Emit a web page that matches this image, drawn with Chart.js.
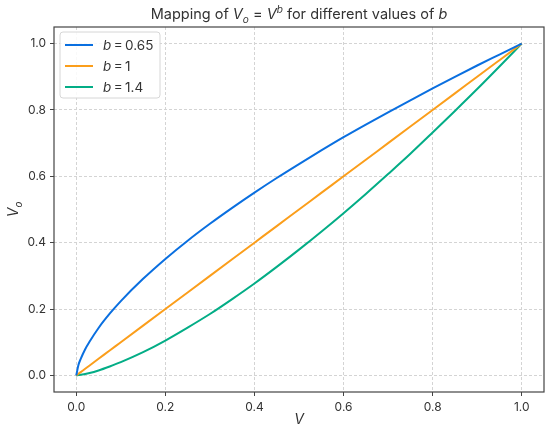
<!DOCTYPE html>
<html>
<head>
<meta charset="utf-8">
<script src="https://cdn.jsdelivr.net/npm/chart.js@4"></script>
<style>
    html, body { margin: 0; padding: 0; background: #fff; }
    #wrap { width: 550px; height: 431px; position: relative; }
</style>
</head>
<body>
<div id="wrap"><canvas id="chart"></canvas></div>
<script>
// Values
const vIn = [0, 0.005, 0.01, 0.02, 0.03, 0.05, 0.075, 0.1, 0.15, 0.2, 0.25, 0.3, 0.35, 0.4, 0.45,
             0.5, 0.55, 0.6, 0.65, 0.7, 0.75, 0.8, 0.85, 0.9, 0.95, 1.0];
const outB065 = [0, 0.032, 0.050, 0.079, 0.102, 0.143, 0.186, 0.224, 0.291, 0.351, 0.406, 0.457, 0.505, 0.551, 0.595,
                 0.637, 0.678, 0.718, 0.756, 0.793, 0.829, 0.865, 0.900, 0.934, 0.967, 1.0];
const outB1 = [0, 0.005, 0.01, 0.02, 0.03, 0.05, 0.075, 0.1, 0.15, 0.2, 0.25, 0.3, 0.35, 0.4, 0.45,
               0.5, 0.55, 0.6, 0.65, 0.7, 0.75, 0.8, 0.85, 0.9, 0.95, 1.0];
const outB14 = [0, 0.001, 0.002, 0.004, 0.007, 0.015, 0.027, 0.040, 0.070, 0.105, 0.144, 0.185, 0.230, 0.277, 0.327,
                0.379, 0.433, 0.489, 0.547, 0.607, 0.668, 0.732, 0.797, 0.863, 0.931, 1.0];
const bValues = ['0.65', '1', '1.4'];
const lineColors = ['#0a6fe0', '#fb9e1b', '#03ad86'];
const tickValues = [0, 0.2, 0.4, 0.6, 0.8, 1.0];

const FONT = 'Inter, "Noto Sans", sans-serif';
const TEXT = '#333';

function toPoints(ys) {
    return vIn.map((x, i) => ({ x: x, y: ys[i] }));
}

// draw a run of [text, style] pieces; style: 'n' normal, 'i' italic, 'sub', 'sup' (italic)
function drawPieces(ctx, pieces, x, y, size, align) {
    const fontFor = p => {
        const s = (p[1] === 'sub' || p[1] === 'sup') ? size * 0.7 : size;
        const it = p[1] === 'n' ? '' : 'italic ';
        return it + s + 'px ' + FONT;
    };
    let total = 0;
    pieces.forEach(p => { ctx.font = fontFor(p); total += ctx.measureText(p[0]).width; });
    let cx = align === 'center' ? x - total / 2 : x;
    ctx.textBaseline = 'alphabetic';
    ctx.textAlign = 'left';
    pieces.forEach(p => {
        ctx.font = fontFor(p);
        let dy = 0;
        if (p[1] === 'sub') dy = size * 0.25;
        if (p[1] === 'sup') dy = -size * 0.4;
        ctx.fillText(p[0], cx, y + dy);
        cx += ctx.measureText(p[0]).width;
    });
}

const decorPlugin = {
    id: 'decor',
    afterDraw(chart) {
        const ctx = chart.ctx;
        const a = chart.chartArea;
        ctx.save();
        // frame
        ctx.strokeStyle = '#444';
        ctx.lineWidth = 1.2;
        ctx.strokeRect(a.left, a.top, a.right - a.left, a.bottom - a.top);

        ctx.fillStyle = TEXT;
        // title
        const mid = (a.left + a.right) / 2;
        drawPieces(ctx, [['Mapping of ', 'n'], ['V', 'i'], ['o', 'sub'], [' = ', 'n'], ['V', 'i'], ['b', 'sup'],
                         [' for different values of ', 'n'], ['b', 'i']], mid, 19, 14.5, 'center');
        // x label
        drawPieces(ctx, [['V', 'i']], mid, 424, 14, 'center');
        // y label
        ctx.save();
        ctx.translate(18, (a.top + a.bottom) / 2);
        ctx.rotate(-Math.PI / 2);
        drawPieces(ctx, [['V', 'i'], ['o', 'sub']], 0, 0, 14, 'center');
        ctx.restore();

        // legend
        const lx = a.left + 6, ly = a.top + 5, lw = 100, lh = 66;
        ctx.beginPath();
        ctx.roundRect(lx, ly, lw, lh, 3);
        ctx.fillStyle = 'rgba(255,255,255,0.85)';
        ctx.fill();
        ctx.strokeStyle = '#d6d6d6';
        ctx.lineWidth = 1;
        ctx.stroke();
        bValues.forEach((b, i) => {
            const yy = ly + 13 + i * 21;
            ctx.strokeStyle = lineColors[i];
            ctx.lineWidth = 2;
            ctx.beginPath();
            ctx.moveTo(lx + 5, yy);
            ctx.lineTo(lx + 33, yy);
            ctx.stroke();
            ctx.fillStyle = TEXT;
            drawPieces(ctx, [['b', 'i'], ['\u2009=\u2009' + b, 'n']], lx + 43, yy + 5, 13.5, 'left');
        });
        ctx.restore();
    }
};

const datasets = [outB065, outB1, outB14].map((ys, i) => ({
    label: 'b = ' + bValues[i],
    data: toPoints(ys),
    borderColor: lineColors[i],
    borderWidth: 2,
    pointRadius: 0,
    cubicInterpolationMode: 'monotone',
    fill: false
}));

const axisCommon = {
    type: 'linear',
    min: -0.05,
    max: 1.05,
    afterBuildTicks(scale) {
        scale.ticks = tickValues.map(v => ({ value: v }));
    },
    ticks: {
        color: TEXT,
        font: { family: FONT, size: 12 },
        padding: 4,
        callback: v => v.toFixed(1)
    },
    grid: {
        color: '#d4d4d4',
        lineWidth: 1,
        drawTicks: true,
        tickLength: 4,
        tickColor: '#444',
        tickBorderDash: [],
        drawOnChartArea: true
    },
    border: { display: false, dash: [3, 2] }
};

new Chart(document.getElementById('chart'), {
    type: 'line',
    data: { datasets: datasets },
    options: {
        responsive: true,
        maintainAspectRatio: false,
        animation: false,
        layout: { padding: { top: 27, right: 6, left: 0, bottom: 0 } },
        scales: {
            x: Object.assign({}, axisCommon, {
                afterFit(scale) { scale.height = 39; }
            }),
            y: Object.assign({}, axisCommon, {
                afterFit(scale) { scale.width = 54; }
            })
        },
        plugins: {
            legend: { display: false },
            title: { display: false },
            tooltip: { enabled: false }
        }
    },
    plugins: [decorPlugin]
});
</script>
</body>
</html>
